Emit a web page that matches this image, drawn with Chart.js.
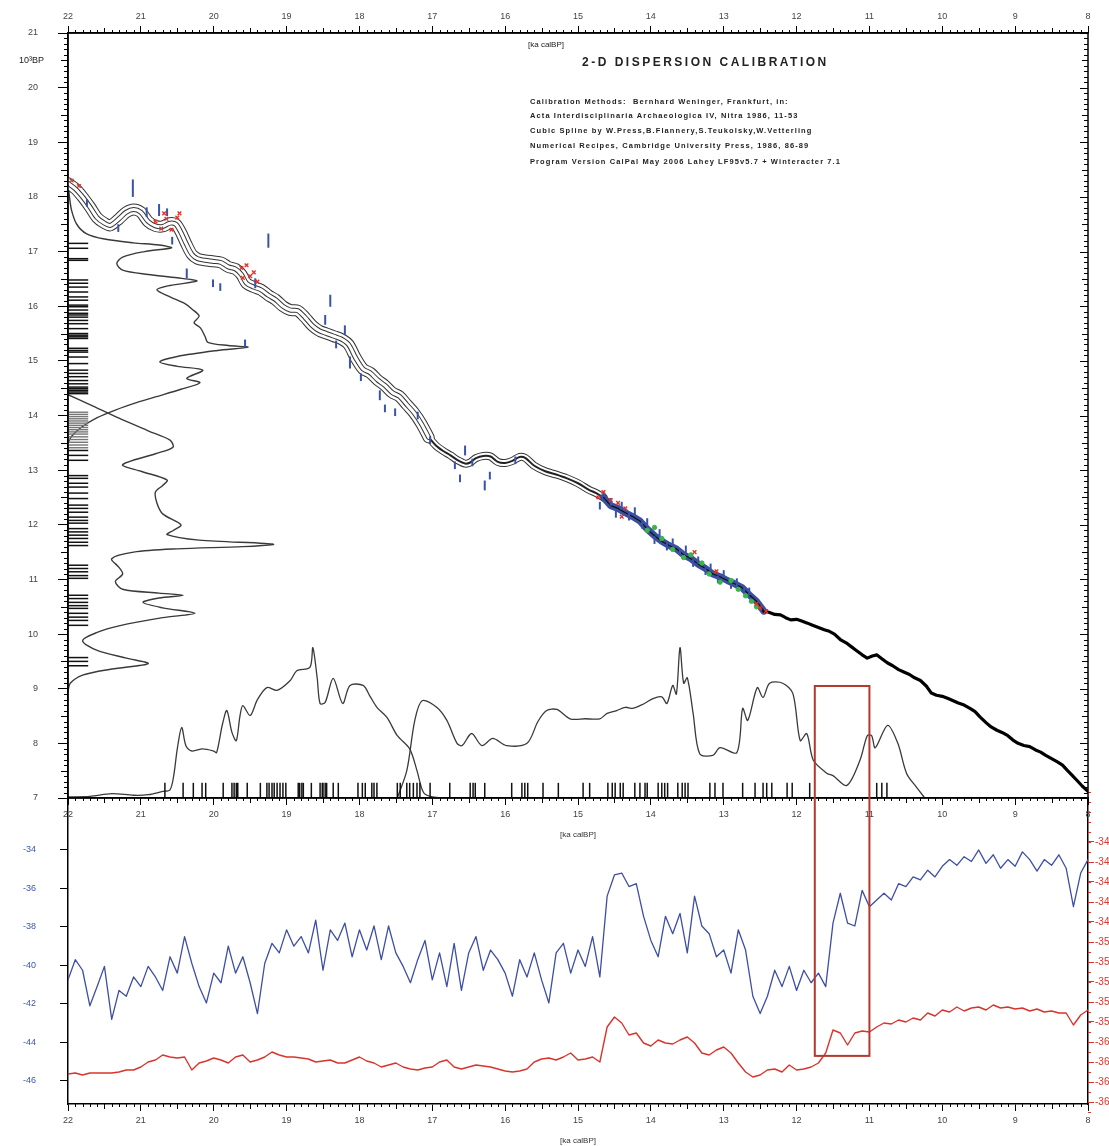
<!DOCTYPE html>
<html>
<head>
<meta charset="utf-8">
<script src="https://cdn.jsdelivr.net/npm/chart.js@4.4.1/dist/chart.umd.min.js"></script>
<style>
  html, body { margin: 0; padding: 0; background: #fff; }
  #wrap { position: relative; width: 1109px; height: 1146px; }
  #wrap canvas { position: absolute; left: 0; top: 0; }
</style>
</head>
<body>
<div id="wrap">
  <canvas id="bottom-chart" width="1109" height="1146"></canvas>
  <canvas id="top-chart" width="1109" height="1146"></canvas>
</div>
<script>
// ---- tick labels ----
const ageTicks = [22, 21, 20, 19, 18, 17, 16, 15, 14, 13, 12, 11, 10, 9, 8];
const bpTicks = [7, 8, 9, 10, 11, 12, 13, 14, 15, 16, 17, 18, 19, 20, 21];
const isoTicks = [-34, -36, -38, -40, -42, -44, -46];
const redTicks = [-34.0, -34.2, -34.4, -34.6, -34.8, -35.0, -35.2, -35.4, -35.6, -35.8, -36.0, -36.2, -36.4, -36.6];

// ---- calibration curve (cal ka BP -> 14C ka BP) ----
const calAgeA = [22.0, 21.9, 21.8, 21.7, 21.6, 21.5, 21.42, 21.3, 21.2, 21.1, 21.0, 20.9, 20.8, 20.7, 20.6, 20.52,
  20.45, 20.38, 20.3, 20.22, 20.12, 20.0, 19.9, 19.8, 19.7, 19.62, 19.55, 19.45, 19.35, 19.25, 19.15, 19.05,
  18.95, 18.85, 18.75, 18.65, 18.55, 18.45, 18.35, 18.25, 18.15, 18.05, 17.95, 17.85, 17.75, 17.65, 17.55,
  17.45, 17.35, 17.25, 17.15, 17.05];
const calBpA = [18.25, 18.15, 18.0, 17.82, 17.62, 17.52, 17.48, 17.6, 17.72, 17.77, 17.72, 17.55, 17.47, 17.46, 17.52, 17.5,
  17.35, 17.15, 16.95, 16.87, 16.84, 16.82, 16.8, 16.72, 16.68, 16.58, 16.42, 16.35, 16.3, 16.2, 16.12, 16.0,
  15.93, 15.92, 15.8, 15.65, 15.55, 15.5, 15.45, 15.4, 15.3, 15.05, 14.85, 14.78, 14.65, 14.55, 14.42,
  14.35, 14.2, 14.05, 13.85, 13.6];
const calAgeB = [17.05, 16.95, 16.85, 16.75, 16.65, 16.55, 16.48, 16.4, 16.3, 16.2, 16.1, 16.0, 15.9, 15.8, 15.72,
  15.6, 15.45, 15.3, 15.15, 15.0, 14.85, 14.75, 14.65];
const calBpB = [13.6, 13.45, 13.35, 13.27, 13.18, 13.12, 13.14, 13.22, 13.26, 13.25, 13.15, 13.13, 13.17, 13.24, 13.22,
  13.08, 12.98, 12.92, 12.85, 12.76, 12.64, 12.58, 12.5];
const calAgeC = [14.65, 14.55, 14.45, 14.35, 14.25, 14.15, 14.05, 13.95, 13.85, 13.75, 13.65, 13.55, 13.45, 13.35,
  13.25, 13.15, 13.05, 12.95, 12.85, 12.75, 12.65, 12.55, 12.45];
const calBpC = [12.5, 12.35, 12.3, 12.22, 12.15, 12.07, 11.92, 11.8, 11.7, 11.62, 11.56, 11.45, 11.38, 11.28,
  11.2, 11.1, 11.05, 10.98, 10.92, 10.85, 10.72, 10.6, 10.42];
const calAgeD = [12.45, 12.38, 12.3, 12.22, 12.15, 12.08, 12.0, 11.93, 11.85, 11.78, 11.7, 11.62, 11.55, 11.48, 11.4,
  11.32, 11.25, 11.18, 11.1, 11.03, 10.96, 10.9, 10.83, 10.75, 10.68, 10.6, 10.52, 10.45, 10.38, 10.3, 10.22,
  10.15, 10.08, 10.0, 9.92, 9.85, 9.78, 9.7, 9.62, 9.55, 9.48, 9.4, 9.33, 9.25, 9.18, 9.1, 9.03, 8.96, 8.88,
  8.8, 8.72, 8.65, 8.58, 8.5, 8.42, 8.35, 8.28, 8.22, 8.15, 8.08, 8.0];
const calBpD = [10.42, 10.4, 10.36, 10.35, 10.3, 10.26, 10.27, 10.24, 10.2, 10.16, 10.12, 10.08, 10.05, 10.0, 9.9,
  9.84, 9.77, 9.7, 9.62, 9.56, 9.6, 9.62, 9.55, 9.47, 9.42, 9.35, 9.3, 9.26, 9.2, 9.15, 9.05,
  8.92, 8.88, 8.86, 8.82, 8.78, 8.74, 8.7, 8.64, 8.58, 8.48, 8.38, 8.3, 8.24, 8.2, 8.14, 8.06, 8.0, 7.96,
  7.94, 7.88, 7.84, 7.78, 7.72, 7.66, 7.6, 7.5, 7.42, 7.32, 7.22, 7.12];

// ---- dated samples ----
const blueAge = [21.11, 20.92, 20.75, 20.64, 21.74, 21.31, 20.57, 20.37, 20.01, 19.91, 19.57, 19.25, 19.43, 18.4,
  18.47, 18.2, 18.32, 18.13, 17.98, 17.72, 17.65, 17.51, 17.2, 17.03, 16.69, 16.55, 16.45, 16.21, 16.28, 16.62,
  15.86, 14.7, 14.55, 14.48, 14.4, 14.3, 14.22, 14.12, 14.05, 13.95, 13.88, 13.78, 13.7, 13.6, 13.52, 13.42,
  13.35, 13.25, 13.18, 13.08, 13.0, 12.9, 12.82, 12.72, 12.65];
const blueBp = [18.16, 17.72, 17.76, 17.72, 17.89, 17.43, 17.2, 16.6, 16.42, 16.35, 15.32, 17.2, 16.42, 16.1,
  15.75, 15.56, 15.3, 14.97, 14.7, 14.37, 14.13, 14.06, 14.0, 13.55, 13.09, 13.36, 13.14, 12.9, 12.72, 12.85,
  13.18, 12.35, 12.42, 12.2, 12.35, 12.15, 12.25, 12.0, 12.05, 11.72, 11.85, 11.6, 11.68, 11.5, 11.55, 11.3,
  11.35, 11.15, 11.22, 11.0, 11.1, 10.9, 10.95, 10.8, 10.78];
const blueSigma = [0.16, 0.09, 0.11, 0.07, 0.07, 0.07, 0.07, 0.09, 0.07, 0.07, 0.07, 0.13, 0.09, 0.11,
  0.09, 0.09, 0.07, 0.11, 0.07, 0.09, 0.07, 0.07, 0.07, 0.07, 0.07, 0.09, 0.07, 0.07, 0.09, 0.07,
  0.07, 0.07, 0.07, 0.07, 0.07, 0.07, 0.07, 0.07, 0.07, 0.07, 0.07, 0.07, 0.07, 0.07, 0.07, 0.07,
  0.07, 0.07, 0.07, 0.07, 0.07, 0.07, 0.07, 0.07, 0.07];
const redAge = [20.8, 20.72, 20.65, 20.58, 20.5, 20.47, 20.68, 19.62, 19.55, 19.5, 19.45, 19.6, 19.4, 21.95, 21.85,
  14.72, 14.65, 14.55, 14.45, 14.35, 14.4, 12.5, 12.42, 12.55, 13.4, 13.1];
const redBp = [17.55, 17.42, 17.6, 17.4, 17.62, 17.7, 17.7, 16.7, 16.75, 16.55, 16.62, 16.52, 16.45, 18.3, 18.2,
  12.5, 12.6, 12.45, 12.4, 12.3, 12.15, 10.48, 10.42, 10.55, 11.5, 11.15];
const greenAge = [14.05, 13.95, 13.85, 13.7, 13.55, 13.45, 13.3, 13.2, 13.05, 12.9, 12.8, 12.7, 12.62, 12.55];
const greenBp = [11.9, 11.95, 11.75, 11.55, 11.4, 11.45, 11.3, 11.1, 10.95, 10.98, 10.82, 10.7, 10.6, 10.5];

// ---- 14C-age dispersion (left, drawn sideways from the axis) ----
const densAx = [22.0, 21.98, 21.95, 21.88, 21.75, 21.5, 21.1, 20.75, 20.58, 20.95, 21.25, 21.33, 21.25, 20.9, 20.5,
  20.23, 20.6, 20.78, 20.6, 20.4, 20.3, 20.2, 20.27, 20.18, 20.12, 20.08, 19.8, 19.53, 19.95, 20.5, 20.74, 20.5,
  20.15, 20.37, 20.19, 20.45, 20.8, 21.05, 21.35, 21.6, 21.82, 21.95, 22.0];
const densAy = [18.3, 18.0, 17.75, 17.5, 17.33, 17.23, 17.16, 17.12, 17.07, 17.0, 16.9, 16.78, 16.66, 16.58, 16.52,
  16.46, 16.38, 16.3, 16.17, 16.05, 15.95, 15.82, 15.7, 15.6, 15.45, 15.34, 15.28, 15.25, 15.19, 15.08, 14.98, 14.9,
  14.83, 14.68, 14.6, 14.48, 14.34, 14.24, 14.1, 13.96, 13.78, 13.62, 13.5];
const densBx = [22.0, 21.7, 21.3, 20.9, 20.6, 20.56, 20.8, 21.25, 21.0, 20.64, 20.7, 20.8, 20.78, 20.7, 20.45,
  20.55, 20.64, 20.2, 19.3, 19.18, 19.6, 20.5, 21.1, 21.4, 21.3, 21.25, 21.35, 21.25, 20.75, 20.42, 20.75, 20.97,
  20.7, 20.26, 20.7, 21.3, 21.6, 21.8, 21.6, 21.2, 20.9, 21.4, 21.8, 21.97, 22.0];
const densBy = [14.38, 14.2, 13.95, 13.72, 13.55, 13.42, 13.3, 13.1, 12.98, 12.82, 12.72, 12.6, 12.4, 12.2, 12.0,
  11.9, 11.82, 11.72, 11.66, 11.64, 11.6, 11.56, 11.5, 11.38, 11.22, 11.1, 10.96, 10.82, 10.75, 10.71, 10.66, 10.58,
  10.48, 10.38, 10.3, 10.15, 10.03, 9.88, 9.7, 9.56, 9.46, 9.36, 9.25, 9.1, 8.95];

// ---- calendar-age dispersion (bottom, drawn upward from the axis) ----
const densCx = [22.0, 21.7, 21.4, 21.1, 20.9, 20.7, 20.6, 20.55, 20.5, 20.44, 20.38, 20.3, 20.15, 20.0, 19.96,
  19.88, 19.82, 19.75, 19.69, 19.64, 19.6, 19.5, 19.4, 19.27, 19.13, 18.95, 18.86, 18.68, 18.64, 18.58, 18.54,
  18.47, 18.36, 18.23, 18.13, 17.95, 17.85, 17.76, 17.62, 17.48, 17.31, 17.21, 17.12, 17.0, 16.8];
const densCy = [7.02, 7.03, 7.08, 7.05, 7.06, 7.12, 7.15, 7.4, 7.9, 8.29, 7.95, 7.86, 7.9, 7.86, 7.83,
  8.35, 8.6, 8.2, 8.05, 8.5, 8.69, 8.51, 8.8, 9.02, 8.97, 9.15, 9.33, 9.39, 9.75, 9.2, 8.73,
  8.75, 9.19, 8.73, 9.06, 9.06, 8.85, 8.66, 8.47, 8.14, 7.9, 7.5, 7.1, 7.02, 7.0];
const densDx = [17.48, 17.35, 17.24, 17.14, 16.94, 16.8, 16.66, 16.59, 16.46, 16.32, 16.17, 15.98, 15.7, 15.55,
  15.43, 15.29, 15.11, 14.9, 14.7, 14.6, 14.47, 14.35, 14.25, 14.1, 13.97, 13.85, 13.78, 13.7, 13.65, 13.6,
  13.55, 13.5, 13.42, 13.33, 13.15, 13.05, 12.82, 12.74, 12.67, 12.54, 12.46, 12.37, 12.19, 12.05, 11.95,
  11.86, 11.77, 11.58, 11.5, 11.31, 11.13, 11.03, 10.97, 10.92, 10.75, 10.61, 10.49, 10.35, 10.24];
const densDy = [7.0, 7.5, 8.42, 8.78, 8.66, 8.42, 8.0, 7.96, 8.18, 7.96, 8.09, 7.96, 8.0, 8.4,
  8.6, 8.62, 8.45, 8.45, 8.45, 8.55, 8.6, 8.66, 8.64, 8.72, 8.82, 8.85, 8.73, 9.06, 8.9, 9.75,
  9.1, 9.2, 8.55, 7.81, 7.78, 7.92, 7.83, 8.64, 8.42, 9.02, 8.84, 9.1, 9.1, 8.91, 8.05,
  8.18, 7.69, 7.45, 7.41, 7.23, 7.69, 8.14, 8.14, 7.92, 8.33, 8.0, 7.45, 7.19, 7.0];

// ---- rug marks of the individual dates ----
const rugCal = [20.67, 20.42, 20.28, 20.16, 20.11, 19.87, 19.75, 19.72, 19.69, 19.67, 19.54, 19.36, 19.27, 19.24,
  19.2, 19.17, 19.13, 19.09, 19.05, 19.01, 18.84, 18.82, 18.79, 18.77, 18.66, 18.54, 18.51, 18.5, 18.47, 18.45,
  18.36, 18.29, 18.02, 17.96, 17.92, 17.83, 17.8, 17.76, 17.48, 17.44, 17.35, 17.31, 17.26, 17.21, 17.17, 17.03,
  16.76, 16.48, 16.44, 16.41, 16.28, 15.91, 15.77, 15.73, 15.69, 15.48, 15.27, 14.93, 14.84, 14.59, 14.53, 14.49,
  14.42, 14.38, 14.22, 14.15, 14.08, 14.05, 13.9, 13.85, 13.81, 13.77, 13.63, 13.57, 13.53, 13.49, 13.19, 13.12,
  13.01, 12.74, 12.57, 12.46, 12.41, 12.34, 12.13, 12.06, 11.82, 10.9, 10.83, 10.76];
const rugBp = [17.15, 17.06, 16.87, 16.84, 16.48, 16.42, 16.35, 16.26, 16.17, 16.11, 16.02, 15.99, 15.93, 15.87,
  15.84, 15.8, 15.74, 15.68, 15.59, 15.5, 15.47, 15.44, 15.41, 15.23, 15.19, 15.16, 15.07, 14.95, 14.83, 14.77,
  14.71, 14.64, 14.58, 14.52, 14.49, 14.46, 14.43, 14.4, 13.36, 13.27, 13.18, 12.9, 12.85, 12.76, 12.69, 12.58,
  12.48, 12.36, 12.3, 12.23, 12.14, 12.08, 12.03, 11.93, 11.87, 11.81, 11.75, 11.68, 11.62, 11.26, 11.2, 11.14,
  11.07, 11.02, 10.71, 10.65, 10.58, 10.52, 10.47, 10.38, 10.31, 10.25, 10.16, 9.57, 9.5, 9.42];
const rugBpDense = [14.06, 14.02, 13.98, 13.94, 13.9, 13.86, 13.82, 13.78, 13.74, 13.7, 13.66, 13.61, 13.56,
  13.51, 13.46, 13.41];

// ---- ice-core records (lower panel) ----
const ages = [
  22.0, 21.9, 21.8, 21.7, 21.6, 21.5, 21.4, 21.3, 21.2, 21.1,
  21.0, 20.9, 20.8, 20.7, 20.6, 20.5, 20.4, 20.3, 20.2, 20.1,
  20.0, 19.9, 19.8, 19.7, 19.6, 19.5, 19.4, 19.3, 19.2, 19.1,
  19.0, 18.9, 18.8, 18.7, 18.6, 18.5, 18.4, 18.3, 18.2, 18.1,
  18.0, 17.9, 17.8, 17.7, 17.6, 17.5, 17.4, 17.3, 17.2, 17.1,
  17.0, 16.9, 16.8, 16.7, 16.6, 16.5, 16.4, 16.3, 16.2, 16.1,
  16.0, 15.9, 15.8, 15.7, 15.6, 15.5, 15.4, 15.3, 15.2, 15.1,
  15.0, 14.9, 14.8, 14.7, 14.6, 14.5, 14.4, 14.3, 14.2, 14.1,
  14.0, 13.9, 13.8, 13.7, 13.6, 13.5, 13.4, 13.3, 13.2, 13.1,
  13.0, 12.9, 12.8, 12.7, 12.6, 12.5, 12.4, 12.3, 12.2, 12.1,
  12.0, 11.9, 11.8, 11.7, 11.6, 11.5, 11.4, 11.3, 11.2, 11.1,
  11.0, 10.9, 10.8, 10.7, 10.6, 10.5, 10.4, 10.3, 10.2, 10.1,
  10.0, 9.9, 9.8, 9.7, 9.6, 9.5, 9.4, 9.3, 9.2, 9.1,
  9.0, 8.9, 8.8, 8.7, 8.6, 8.5, 8.4, 8.3, 8.2, 8.1,
  8.0];
const blueIso = [
  -40.75, -39.7, -40.25, -42.1, -41.1, -40.05, -42.8, -41.3, -41.6, -40.6,
  -41.1, -40.05, -40.6, -41.3, -39.55, -40.4, -38.5, -39.9, -41.1, -41.95,
  -40.4, -40.9, -39.0, -40.4, -39.55, -40.9, -42.5, -39.9, -38.85, -39.35,
  -38.15, -39.0, -38.5, -39.35, -37.65, -40.25, -38.15, -38.7, -37.8, -39.55,
  -38.15, -39.2, -37.95, -39.7, -37.95, -39.35, -40.05, -40.9, -39.7, -38.7,
  -40.75, -39.35, -41.1, -38.85, -41.3, -39.35, -38.5, -40.25, -39.2, -39.7,
  -40.4, -41.6, -39.7, -40.6, -39.35, -40.75, -41.95, -39.35, -38.85, -40.4,
  -39.2, -40.05, -38.5, -40.6, -36.4, -35.3, -35.2, -35.9, -35.75, -37.45,
  -38.7, -39.55, -37.45, -38.35, -37.3, -39.35, -36.4, -37.95, -38.35, -39.55,
  -39.2, -40.4, -38.15, -39.2, -41.6, -42.5, -41.6, -40.25, -41.1, -40.05,
  -41.3, -40.25, -40.9, -40.4, -41.1, -37.8, -36.25, -37.8, -37.95, -36.1,
  -36.95, -36.6, -36.25, -36.6, -35.75, -35.9, -35.4, -35.55, -35.05, -35.4,
  -34.85, -34.5, -34.8, -34.35, -34.6, -34.0, -34.7, -34.25, -34.95, -34.5,
  -34.85, -34.1, -34.5, -35.1, -34.5, -34.8, -34.25, -34.95, -36.95, -35.2,
  -34.5];
const redIso = [
  -36.32, -36.31, -36.33, -36.31, -36.31, -36.31, -36.31, -36.30, -36.28, -36.28,
  -36.25, -36.20, -36.18, -36.13, -36.15, -36.16, -36.15, -36.28, -36.21, -36.19,
  -36.16, -36.18, -36.21, -36.15, -36.13, -36.20, -36.18, -36.15, -36.10, -36.13,
  -36.15, -36.15, -36.16, -36.17, -36.20, -36.19, -36.18, -36.21, -36.21, -36.18,
  -36.15, -36.19, -36.21, -36.25, -36.23, -36.21, -36.25, -36.27, -36.28, -36.26,
  -36.25, -36.20, -36.18, -36.25, -36.27, -36.25, -36.23, -36.24, -36.25, -36.27,
  -36.29, -36.30, -36.29, -36.27, -36.20, -36.17, -36.16, -36.18, -36.15, -36.11,
  -36.18, -36.17, -36.15, -36.20, -35.85, -35.75, -35.81, -35.93, -35.91, -36.01,
  -36.04, -35.98, -36.01, -36.02, -35.98, -35.95, -36.01, -36.11, -36.13, -36.08,
  -36.05, -36.11, -36.21, -36.30, -36.35, -36.33, -36.28, -36.27, -36.30, -36.23,
  -36.28, -36.27, -36.25, -36.21, -36.11, -35.88, -35.91, -36.03, -35.91, -35.89,
  -35.90, -35.85, -35.81, -35.82, -35.78, -35.80, -35.76, -35.78, -35.71, -35.74,
  -35.68, -35.70, -35.65, -35.69, -35.66, -35.65, -35.68, -35.63, -35.66, -35.65,
  -35.67, -35.66, -35.69, -35.67, -35.70, -35.69, -35.71, -35.71, -35.83, -35.73,
  -35.68];

// ---- highlighted interval (red box) ----
const boxAge = [11.75, 11.0];
const boxBp = 9.05;     // top edge, upper panel units
const boxIso = -44.7;   // bottom edge, lower panel units

const titleText = '2-D DISPERSION CALIBRATION';
const noteLines = [
  'Calibration Methods:  Bernhard Weninger, Frankfurt, in:',
  'Acta Interdisciplinaria Archaeologica IV, Nitra 1986, 11-53',
  'Cubic Spline by W.Press,B.Flannery,S.Teukolsky,W.Vetterling',
  'Numerical Recipes, Cambridge University Press, 1986, 86-89',
  'Program Version CalPal May 2006 Lahey LF95v5.7 + Winteracter 7.1'
];

const FONT = "'Liberation Sans', Arial, sans-serif";
Chart.defaults.font.family = FONT;
Chart.defaults.color = '#333';

const pts = (xs, ys) => xs.map((x, i) => ({ x, y: ys[i] }));

function lineSet(data, color, width, order, extra) {
  return Object.assign({
    type: 'scatter', data, showLine: true, borderColor: color, borderWidth: width,
    pointRadius: 0, tension: 0.3, borderJoinStyle: 'round', borderCapStyle: 'round', order
  }, extra || {});
}

function markSet(data, color, radius, rotation, width, order) {
  return {
    type: 'scatter', data, showLine: false, pointStyle: 'line', pointRotation: rotation,
    pointRadius: radius, pointBorderColor: color, borderColor: color, pointBorderWidth: width,
    pointBackgroundColor: color, order
  };
}

function fixedTicks(list) {
  return s => { s.ticks = list.map(v => ({ value: v })); };
}

// ---------------- lower panel ----------------
const bottomFrame = {
  id: 'bottomFrame',
  afterDraw(chart) {
    const { ctx, chartArea: a, scales: { x, yr } } = chart;
    ctx.save();
    ctx.strokeStyle = '#000';
    ctx.lineWidth = 1;
    ctx.beginPath();
    for (let i = 80; i <= 220; i++) {
      if (i % 10 === 0) continue;
      const px = Math.round(x.getPixelForValue(i / 10)) + 0.5;
      const len = i % 5 === 0 ? 5 : 3;
      ctx.moveTo(px, a.bottom); ctx.lineTo(px, a.bottom + len);
    }
    ctx.stroke();
    ctx.strokeStyle = '#d9342b';
    ctx.beginPath();
    for (let i = 3350; i <= 3670; i += 10) {
      const py = Math.round(yr.getPixelForValue(-i / 100)) + 0.5;
      ctx.moveTo(a.right, py); ctx.lineTo(a.right + 3, py);
    }
    ctx.stroke();
    ctx.restore();
  }
};

const bottomChart = new Chart(document.getElementById('bottom-chart'), {
  type: 'scatter',
  data: {
    datasets: [
      lineSet(pts(ages, redIso), '#d9342b', 1.4, 1, { yAxisID: 'yr', tension: 0 }),
      lineSet(pts(ages, blueIso), '#3d4ea5', 1.3, 2, { tension: 0 })
    ]
  },
  options: {
    responsive: false,
    animation: false,
    events: [],
    layout: { padding: { top: 798, left: 0, right: 0, bottom: 0 } },
    plugins: { legend: { display: false }, tooltip: { enabled: false } },
    scales: {
      x: {
        type: 'linear', position: 'bottom', min: 8, max: 22, reverse: true,
        afterBuildTicks: fixedTicks(ageTicks),
        afterFit: s => { s.height = 42; },
        ticks: { font: { size: 9 }, color: '#444', padding: 4, maxRotation: 0, autoSkip: false },
        grid: { drawOnChartArea: false, tickLength: 7, color: '#000' },
        border: { color: '#000', width: 1.5 },
        title: { display: true, text: '[ka calBP]', font: { size: 8 }, color: '#333', padding: { top: 0, bottom: 0 } }
      },
      y: {
        type: 'linear', position: 'left', min: -47.2, max: -31.3,
        afterBuildTicks: fixedTicks(isoTicks),
        afterFit: s => { s.width = 68; },
        ticks: { font: { size: 9 }, color: '#3d55b0', padding: 24, autoSkip: false },
        grid: { drawOnChartArea: false, tickLength: 8, color: '#000' },
        border: { color: '#000', width: 1.5 }
      },
      yr: {
        type: 'linear', position: 'right', min: -36.62, max: -33.56,
        afterBuildTicks: fixedTicks(redTicks),
        afterFit: s => { s.width = 21; },
        ticks: { font: { size: 10 }, color: '#d9342b', padding: 1, autoSkip: false, callback: v => v.toFixed(1) },
        grid: { drawOnChartArea: false, tickLength: 6, color: '#d9342b' },
        border: { color: '#000', width: 1.5 }
      }
    }
  },
  plugins: [bottomFrame]
});

// ---------------- upper panel ----------------
const topFrame = {
  id: 'topFrame',
  afterDraw(chart) {
    const { ctx, chartArea: a, scales: { x, y } } = chart;
    ctx.save();
    ctx.strokeStyle = '#000';
    ctx.lineWidth = 1.5;
    ctx.strokeRect(a.left, a.top, a.right - a.left, a.bottom - a.top);
    ctx.lineWidth = 1;
    ctx.beginPath();
    for (let i = 80; i <= 220; i++) {
      if (i % 10 === 0) continue;
      const px = Math.round(x.getPixelForValue(i / 10)) + 0.5;
      const len = i % 5 === 0 ? 5 : 3;
      ctx.moveTo(px, a.top); ctx.lineTo(px, a.top - len);
      ctx.moveTo(px, a.bottom); ctx.lineTo(px, a.bottom + len);
    }
    for (let i = 70; i <= 210; i++) {
      const py = Math.round(y.getPixelForValue(i / 10)) + 0.5;
      const major = i % 10 === 0;
      if (!major) {
        const len = i % 5 === 0 ? 7 : 4;
        ctx.moveTo(a.left, py); ctx.lineTo(a.left - len, py);
      }
      const rl = major ? 8 : (i % 5 === 0 ? 6 : 4);
      ctx.moveTo(a.right, py); ctx.lineTo(a.right - rl, py);
    }
    ctx.stroke();
    ctx.restore();
  }
};

const notes = {
  id: 'notes',
  afterDraw(chart) {
    const { ctx, scales: { y } } = chart;
    ctx.save();
    ctx.fillStyle = '#222';
    ctx.textBaseline = 'middle';
    ctx.textAlign = 'right';
    ctx.font = '9px ' + FONT;
    ctx.fillText('10³BP', 44, y.getPixelForValue(20.5));
    ctx.textAlign = 'left';
    ctx.font = '8px ' + FONT;
    ctx.fillText('[ka calBP]', 528, 45);
    ctx.font = 'bold 12px ' + FONT;
    ctx.letterSpacing = '2.5px';
    ctx.fillText(titleText, 582, 63);
    ctx.font = 'bold 7.5px ' + FONT;
    ctx.letterSpacing = '1.1px';
    const ys = [102, 116, 131, 146, 162];
    noteLines.forEach((t, i) => ctx.fillText(t, 530, ys[i]));
    ctx.restore();
  }
};

const redBox = {
  id: 'redBox',
  afterDraw(chart) {
    const { ctx, scales: { x, y } } = chart;
    const yb = bottomChart.scales.y;
    const l = x.getPixelForValue(boxAge[0]);
    const r = x.getPixelForValue(boxAge[1]);
    const t = y.getPixelForValue(boxBp);
    const b = yb.getPixelForValue(boxIso);
    ctx.save();
    ctx.strokeStyle = '#b3392d';
    ctx.lineWidth = 2;
    ctx.strokeRect(l, t, r - l, b - t);
    ctx.restore();
  }
};

const sigmaRadius = ctx => {
  const s = ctx.chart.scales.y;
  return Math.abs(s.getPixelForValue(10) - s.getPixelForValue(10 + blueSigma[ctx.dataIndex]));
};

const calA = pts(calAgeA, calBpA);
const calB = pts(calAgeB, calBpB);
const calC = pts(calAgeC, calBpC);
const calD = pts(calAgeD, calBpD);

const topChart = new Chart(document.getElementById('top-chart'), {
  type: 'scatter',
  data: {
    datasets: [
      // dispersion curves
      lineSet(pts(densAx, densAy), '#3a3a3a', 1.4, 30),
      lineSet(pts(densBx, densBy), '#3a3a3a', 1.4, 30),
      lineSet(pts(densCx, densCy), '#3a3a3a', 1.3, 30),
      lineSet(pts(densDx, densDy), '#3a3a3a', 1.3, 30),
      // rug marks
      markSet(pts(rugBp.map(() => 21.86), rugBp), '#111', 10, 0, 1.5, 25),
      markSet(pts(rugBpDense.map(() => 21.86), rugBpDense), '#777', 10, 0, 1.4, 25),
      markSet(pts(rugCal, rugCal.map(() => 7.14)), '#111', 7.5, 90, 1.5, 25),
      // calibration curve with confidence envelope
      lineSet(calA, '#333', 12, 20),
      lineSet(calA, '#fff', 10, 19),
      lineSet(calA, '#333', 5, 18),
      lineSet(calA, '#fff', 3, 17),
      lineSet(calB, '#333', 8, 20),
      lineSet(calB, '#fff', 6, 19),
      lineSet(calB, '#222', 2, 18),
      lineSet(calC, '#3a4fa0', 7, 16, { tension: 0 }),
      lineSet(calC, '#111', 1.2, 15, { tension: 0 }),
      lineSet(calD, '#000', 3.2, 15, { tension: 0 }),
      // dated samples
      markSet(pts(blueAge, blueBp), '#3a52a8', sigmaRadius, 90, 2, 5),
      Object.assign(markSet(pts(redAge, redBp), '#e3342a', 2.6, 0, 1.4, 4), { pointStyle: 'crossRot' }),
      Object.assign(markSet(pts(greenAge, greenBp), '#39b54a', 2.2, 0, 1, 4), { pointStyle: 'circle' })
    ]
  },
  options: {
    responsive: false,
    animation: false,
    events: [],
    layout: { padding: { top: 0, left: 0, right: 21, bottom: 306 } },
    plugins: { legend: { display: false }, tooltip: { enabled: false } },
    scales: {
      x: {
        type: 'linear', position: 'top', min: 8, max: 22, reverse: true,
        afterBuildTicks: fixedTicks(ageTicks),
        afterFit: s => { s.height = 33; },
        ticks: { font: { size: 9 }, color: '#444', padding: 4, maxRotation: 0, autoSkip: false },
        grid: { drawOnChartArea: false, tickLength: 7, color: '#000' },
        border: { color: '#000', width: 1.5 }
      },
      xb: {
        type: 'linear', position: 'bottom', min: 8, max: 22, reverse: true,
        afterBuildTicks: fixedTicks(ageTicks),
        afterFit: s => { s.height = 42; },
        ticks: { font: { size: 9 }, color: '#444', padding: 4, maxRotation: 0, autoSkip: false },
        grid: { drawOnChartArea: false, tickLength: 7, color: '#000' },
        border: { color: '#000', width: 1.5 },
        title: { display: true, text: '[ka calBP]', font: { size: 8 }, color: '#333', padding: { top: 1, bottom: 0 } }
      },
      y: {
        type: 'linear', position: 'left', min: 7, max: 21,
        afterBuildTicks: fixedTicks(bpTicks),
        afterFit: s => { s.width = 68; },
        ticks: { font: { size: 9 }, color: '#444', padding: 20, autoSkip: false },
        grid: { drawOnChartArea: false, tickLength: 10, color: '#000' },
        border: { color: '#000', width: 1.5 }
      }
    }
  },
  plugins: [topFrame, notes, redBox]
});
</script>
</body>
</html>
